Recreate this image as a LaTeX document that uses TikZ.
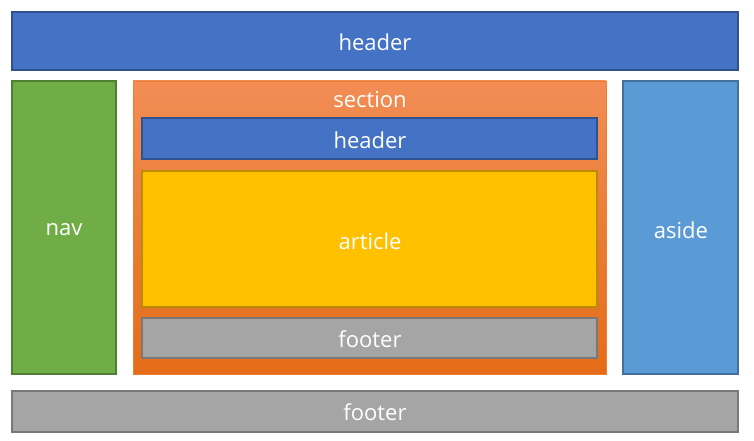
\documentclass[tikz,border=0pt]{standalone}
\usepackage{fontspec}
\setmainfont{Open Sans}
\definecolor{hblue}{HTML}{4472C4}
\definecolor{hblueb}{HTML}{2F528F}
\definecolor{ngreen}{HTML}{70AD47}
\definecolor{ngreenb}{HTML}{507E32}
\definecolor{sectop}{HTML}{F28D55}
\definecolor{secbot}{HTML}{E46C18}
\definecolor{secb}{HTML}{ED7D31}
\definecolor{agold}{HTML}{FFC000}
\definecolor{agoldb}{HTML}{BC8C00}
\definecolor{fgray}{HTML}{A5A5A5}
\definecolor{fgrayb}{HTML}{787878}
\definecolor{asblue}{HTML}{5B9BD5}
\definecolor{asblueb}{HTML}{41719C}
\begin{document}
\begin{tikzpicture}[x=1pt,y=-1pt,
  box/.style={line width=1.2pt},
  lbl/.style={text=white,font=\fontsize{22}{24}\selectfont,inner sep=0pt}]
\useasboundingbox (0,0) rectangle (754,441);
% top header
\draw[box,fill=hblue,draw=hblueb] (12,12) rectangle (738,70);
\node[lbl] (th) at (375,42) {header};
% nav
\draw[box,fill=ngreen,draw=ngreenb] (12,81) rectangle (116,374);
\node[lbl] (nav) at (64,230) {nav};
% section
\shade[top color=sectop,bottom color=secbot] (133,81) rectangle (606,374);
\draw[line width=0.8pt,draw=secb] (133,81) rectangle (606,374);
\node[lbl] (sec) at (370,100) {section};
% inner header
\draw[box,fill=hblue,draw=hblueb] (142,118) rectangle (597,159);
\node[lbl] (ih) at (370,140) {header};
% article
\draw[box,fill=agold,draw=agoldb] (142,171) rectangle (597,307);
\node[lbl] (art) at (370,241) {article};
% inner footer
\draw[box,fill=fgray,draw=fgrayb] (142,318) rectangle (597,358);
\node[lbl] (ifo) at (370,339) {footer};
% aside
\draw[box,fill=asblue,draw=asblueb] (623,81) rectangle (738,374);
\node[lbl] (as) at (681,230) {aside};
% bottom footer
\draw[box,fill=fgray,draw=fgrayb] (12,391) rectangle (738,432);
\node[lbl] (bf) at (375,412) {footer};
\end{tikzpicture}
\end{document}
